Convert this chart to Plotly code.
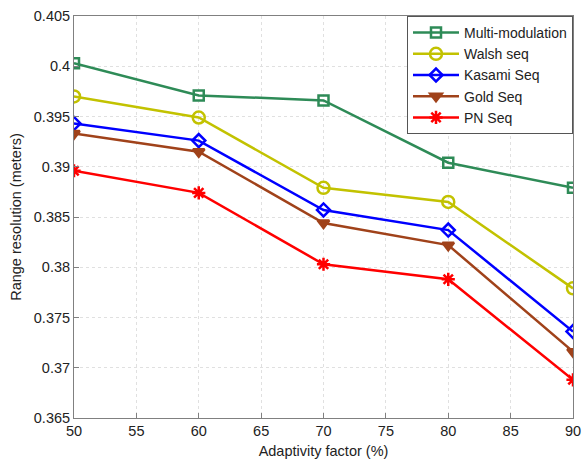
import plotly.graph_objects as go

# Adaptivity factor (%) on the x axis
adaptivity = [50, 60, 70, 80, 90]

# Range resolution (meters) for each spreading scheme
multi_modulation = [0.4003, 0.3971, 0.3966, 0.3904, 0.3879]
walsh_seq = [0.3970, 0.3949, 0.3879, 0.3865, 0.3779]
kasami_seq = [0.3943, 0.3926, 0.3857, 0.3837, 0.3736]
gold_seq = [0.3933, 0.3915, 0.3844, 0.3822, 0.3716]
pn_seq = [0.3896, 0.3874, 0.3803, 0.3788, 0.3688]

# Axis ticks
x_ticks = [50, 55, 60, 65, 70, 75, 80, 85, 90]
y_ticks = [0.365, 0.37, 0.375, 0.38, 0.385, 0.39, 0.395, 0.4, 0.405]
y_tick_labels = ["0.365", "0.37", "0.375", "0.38", "0.385", "0.39", "0.395", "0.4", "0.405"]

series = [
    ("Multi-modulation", multi_modulation, "#2E8B57", "square-open", 10),
    ("Walsh seq", walsh_seq, "#C2C200", "circle-open", 12),
    ("Kasami Seq", kasami_seq, "#0000FF", "diamond-open", 10),
    ("Gold Seq", gold_seq, "#A0421A", "triangle-down", 10),
    ("PN Seq", pn_seq, "#FF0000", "asterisk-open", 11),
]

fig = go.Figure()
for name, values, color, symbol, size in series:
    fig.add_trace(go.Scatter(
        x=adaptivity, y=values, name=name, mode="lines+markers",
        line=dict(color=color, width=2.5),
        marker=dict(symbol=symbol, size=size, color=color,
                    line=dict(color=color, width=2.5)),
    ))

font_family = "Liberation Sans, Arial, sans-serif"

axis_common = dict(
    showline=True, linecolor="#808080", linewidth=1, mirror=True,
    ticks="inside", ticklen=5, tickcolor="#808080",
    showgrid=True, gridcolor="#E0E0E0", griddash="dot", gridwidth=1,
    zeroline=False, automargin=False,
    tickfont=dict(family=font_family, size=14.5, color="#222222"),
)

fig.update_layout(
    width=582, height=461,
    margin=dict(l=74, r=9, t=16, b=43),
    paper_bgcolor="white", plot_bgcolor="white",
    font=dict(family=font_family, size=14, color="#222222"),
    xaxis=dict(range=[50, 90], tickvals=x_ticks,
               title=dict(text="Adaptivity factor (%)", standoff=7,
                          font=dict(size=14.5)),
               **axis_common),
    yaxis=dict(range=[0.365, 0.405], tickvals=y_ticks, ticktext=y_tick_labels,
               title=dict(text="Range resolution (meters)", standoff=8,
                          font=dict(size=14.5)),
               **axis_common),
    legend=dict(x=1, y=1, xanchor="right", yanchor="top",
                bgcolor="white", bordercolor="#555555", borderwidth=1,
                font=dict(size=14, color="#222222"),
                itemwidth=46, tracegroupgap=0),
    showlegend=True,
)

fig.write_html("out.html")
